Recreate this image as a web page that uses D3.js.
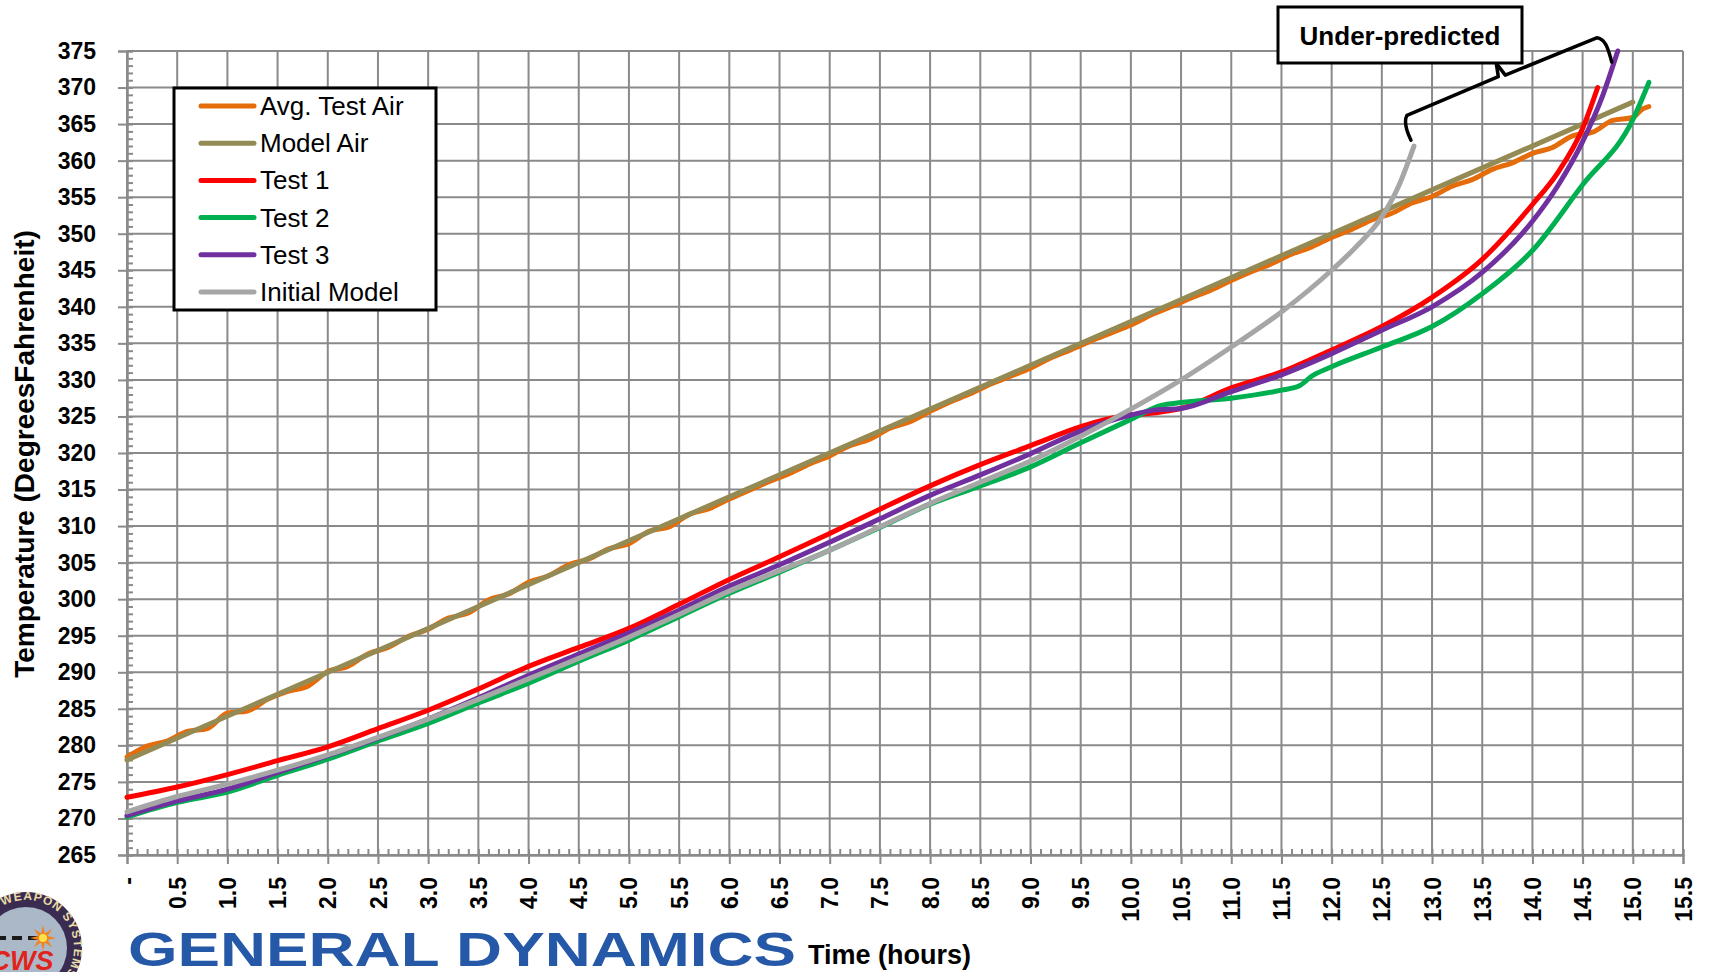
<!DOCTYPE html>
<html>
<head>
<meta charset="utf-8">
<script src="https://cdn.jsdelivr.net/npm/d3@7"></script>
<style>
  html, body { margin: 0; padding: 0; background: #ffffff; }
  svg { display: block; }
  text { font-family: "Liberation Sans", Arial, sans-serif; }
</style>
</head>
<body>
<svg id="chart" width="1709" height="972"></svg>
<script>
// ---- Data: temperature (°F) versus time (hours) ----
const airHours = [0,0.2,0.4,0.6,0.8,1.0,1.2,1.4,1.6,1.8,2.0,2.2,2.4,2.6,2.8,3.0,3.2,3.4,3.6,3.8,
  4.0,4.2,4.4,4.6,4.8,5.0,5.2,5.4,5.6,5.8,6.0,6.2,6.4,6.6,6.8,7.0,7.2,7.4,7.6,7.8,
  8.0,8.2,8.4,8.6,8.8,9.0,9.2,9.4,9.6,9.8,10.0,10.2,10.4,10.6,10.8,11.0,11.2,11.4,11.6,11.8,
  12.0,12.2,12.4,12.6,12.8,13.0,13.2,13.4,13.6,13.8,14.0,14.2,14.4,14.6,14.8,15.0,15.1,15.16];
const avgTestAir = [278.4,279.9,280.6,281.9,282.3,284.4,284.7,286.3,287.4,288.1,290.1,290.8,292.5,293.4,294.9,295.9,297.4,298.1,299.9,300.7,
  302.3,303.2,304.7,305.5,306.9,307.6,309.3,309.9,311.6,312.4,313.7,314.9,316.1,317.2,318.5,319.6,321.0,321.9,323.4,324.3,
  325.7,327.0,328.1,329.4,330.5,331.6,333.0,334.1,335.3,336.4,337.5,338.9,340.0,341.2,342.3,343.6,344.8,345.9,347.2,348.2,
  349.5,350.6,351.9,352.8,354.2,355.1,356.5,357.4,358.8,359.7,361.0,361.8,363.4,363.9,365.5,365.9,367.1,367.4];

const modelAirHours = [0, 3, 6, 9, 12, 15];
const modelAir = [278, 296, 314, 332, 350, 368];

const test1Hours = [0,0.5,1,1.5,2,2.5,3,3.5,4,4.5,5,5.5,6,6.5,7,7.5,8,8.5,9,9.5,9.75,10,10.25,10.5,11,11.5,12,12.5,13,13.5,14,14.25,14.5,14.65];
const test1 = [272.9,274.3,276.0,277.9,279.8,282.3,284.8,287.7,290.8,293.4,296.0,299.3,302.7,305.8,309.0,312.3,315.5,318.4,321.0,323.6,324.6,325.2,325.5,326.1,328.9,331.1,334.1,337.3,341.3,346.5,354.0,358.3,364.4,370.0];

const test2Hours = [0,0.5,1,1.5,2,2.5,3,3.5,4,4.5,5,5.5,6,6.5,7,7.5,8,8.5,9,9.5,10,10.3,10.5,11,11.5,11.68,11.8,12,12.5,13,13.5,14,14.5,15,15.16];
const test2 = [270.2,272.2,273.6,275.9,278.1,280.6,283.0,285.8,288.5,291.5,294.4,297.6,300.8,303.7,306.7,309.8,313.0,315.5,318.1,321.4,324.6,326.5,326.9,327.5,328.6,329.2,330.5,331.8,334.5,337.3,341.8,347.7,356.7,365.6,370.7];

const test3Hours = [0,0.5,1,1.5,2,2.5,3,3.5,4,4.5,5,5.5,6,6.5,7,7.5,8,8.5,9,9.5,10,10.25,10.5,11,11.5,12,12.5,13,13.5,14,14.25,14.5,14.7,14.85];
const test3 = [270.4,272.4,274.0,276.3,278.6,281.0,283.6,286.5,289.6,292.5,295.4,298.5,301.8,304.7,307.8,311.0,314.2,317.0,319.9,323.0,325.2,325.9,326.1,328.4,330.7,333.6,336.8,340.0,344.7,351.7,356.5,362.6,368.9,375.0];

const initialModelHours = [0,0.5,1,1.5,2,2.5,3,3.5,4,4.5,5,5.5,6,6.5,7,7.5,8,8.5,9,9.5,10,10.5,11,11.5,12,12.25,12.5,12.67,12.82];
const initialModel = [270.9,273.0,274.7,276.6,278.7,281.1,283.6,286.3,289.1,291.9,294.8,297.9,301.1,303.9,306.7,309.9,313.1,316.0,318.9,322.3,326.0,330.0,334.5,339.3,345.0,348.3,352.3,356.6,362.0];

const seriesNames = ["Avg. Test Air", "Model Air", "Test 1", "Test 2", "Test 3", "Initial Model"];
const seriesColors = ["#E46C0A", "#948A54", "#FF0000", "#00B050", "#7030A0", "#A6A6A6"];

const yTicks = d3.range(265, 376, 5);
const xTicks = d3.range(0, 15.51, 0.5);
const yMinorTicks = d3.range(265, 376, 1);
const xMinorTicks = d3.range(0, 155.1, 1).map(v => v / 10);

// ---- Layout ----
const svg = d3.select("#chart");
const plot = { left: 127, right: 1683, top: 51, bottom: 855 };
const x = d3.scaleLinear().domain([0, 15.5]).range([plot.left, plot.right]);
const y = d3.scaleLinear().domain([265, 375]).range([plot.bottom, plot.top]);
const gridColor = "#8a8a8a";

// ---- Emblem (bottom left) ----
const emb = svg.append("g").attr("transform", "translate(26,948)");
emb.append("circle").attr("r", 56).attr("fill", "#3a2c50");
emb.append("circle").attr("r", 41).attr("fill", "#aab8c8");
emb.append("path").attr("id", "ringPath")
  .attr("d", "M -41.6 -24 A 48 48 0 1 1 -41.6 24").attr("fill", "none");
emb.append("text").attr("font-size", 12).attr("font-weight", "bold")
  .attr("fill", "#eadca6").attr("letter-spacing", 1)
  .append("textPath").attr("href", "#ringPath").attr("startOffset", 26)
  .text("WEAPON SYSTEMS");
emb.append("line").attr("x1", -30).attr("x2", 14).attr("y1", -10).attr("y2", -10)
  .attr("stroke", "#1a1a1a").attr("stroke-width", 4).attr("stroke-dasharray", "10 6");
const star = d3.range(16).map(i => {
  const r = i % 2 === 0 ? 13 : 5;
  const a = i * Math.PI / 8;
  return [17 + r * Math.cos(a), -10 + r * Math.sin(a)];
});
emb.append("polygon").attr("points", star.map(p => p.join(",")).join(" ")).attr("fill", "#f2831e");
emb.append("circle").attr("cx", 17).attr("cy", -10).attr("r", 4).attr("fill", "#ffe14a");
emb.append("text").attr("x", -4).attr("y", 22).attr("text-anchor", "middle")
  .attr("font-size", 27).attr("font-weight", "bold").attr("font-style", "italic")
  .attr("fill", "#e0241c").text("CWS");

// ---- Grid ----
const grid = svg.append("g");
grid.selectAll("line.h").data(yTicks).join("line")
  .attr("x1", plot.left).attr("x2", plot.right)
  .attr("y1", d => y(d)).attr("y2", d => y(d))
  .attr("stroke", gridColor).attr("stroke-width", 2);
grid.selectAll("line.v").data(xTicks).join("line")
  .attr("y1", plot.top).attr("y2", plot.bottom)
  .attr("x1", d => x(d)).attr("x2", d => x(d))
  .attr("stroke", gridColor).attr("stroke-width", 2);

// ---- Axes ----
const yAxis = svg.append("g").attr("transform", `translate(${plot.left},0)`)
  .call(d3.axisLeft(y).tickValues(yTicks).tickSize(9).tickPadding(22).tickFormat(d3.format("d")));
const yMinor = svg.append("g").attr("transform", `translate(${plot.left},0)`)
  .call(d3.axisRight(y).tickValues(yMinorTicks).tickSize(6).tickFormat(""));
const xAxis = svg.append("g").attr("transform", `translate(0,${plot.bottom})`)
  .call(d3.axisBottom(x).tickValues(xTicks).tickSize(9)
    .tickFormat(d => d === 0 ? "-" : d3.format(".1f")(d)));
const xMinor = svg.append("g").attr("transform", `translate(0,${plot.bottom})`)
  .call(d3.axisTop(x).tickValues(xMinorTicks).tickSize(6).tickFormat(""));

[yAxis, yMinor, xAxis, xMinor].forEach(g => {
  g.select(".domain").attr("stroke", gridColor).attr("stroke-width", 2);
  g.selectAll(".tick line").attr("stroke", gridColor).attr("stroke-width", 2);
});
yAxis.selectAll("text")
  .attr("font-family", "'Liberation Sans', Arial, sans-serif")
  .attr("font-size", 23).attr("font-weight", "bold").attr("fill", "#000");
xAxis.selectAll("text")
  .attr("font-family", "'Liberation Sans', Arial, sans-serif")
  .attr("font-size", 23).attr("font-weight", "bold").attr("fill", "#000")
  .attr("transform", "rotate(-90)")
  .attr("text-anchor", "end")
  .attr("x", -22).attr("y", 0).attr("dy", "0.35em");

// ---- Axis titles ----
svg.append("text")
  .attr("transform", "translate(24,454) rotate(-90)")
  .attr("text-anchor", "middle").attr("dominant-baseline", "central")
  .attr("font-size", 28).attr("font-weight", "bold").attr("fill", "#000")
  .text("Temperature (DegreesFahrenheit)");
svg.append("text")
  .attr("x", 808).attr("y", 964)
  .attr("font-size", 27).attr("font-weight", "bold").attr("fill", "#000")
  .text("Time (hours)");

// ---- Company wordmark ----
svg.append("text")
  .attr("x", 128).attr("y", 966)
  .attr("font-family", "'DejaVu Sans', sans-serif")
  .attr("font-size", 48).attr("font-weight", "bold").attr("fill", "#2559a7")
  .attr("textLength", 668).attr("lengthAdjust", "spacingAndGlyphs")
  .text("GENERAL DYNAMICS");

// ---- Series lines ----
const zip = (hs, vs) => hs.map((h, i) => [h, vs[i]]);
const series = [
  zip(airHours, avgTestAir),
  zip(modelAirHours, modelAir),
  zip(test1Hours, test1),
  zip(test2Hours, test2),
  zip(test3Hours, test3),
  zip(initialModelHours, initialModel)
];
const line = d3.line().x(d => x(d[0])).y(d => y(d[1])).curve(d3.curveMonotoneX);
svg.append("g").selectAll("path").data(series).join("path")
  .attr("d", line)
  .attr("fill", "none")
  .attr("stroke", (d, i) => seriesColors[i])
  .attr("stroke-width", 5)
  .attr("stroke-linecap", "round")
  .attr("stroke-linejoin", "round");

// ---- Legend ----
const legend = svg.append("g");
legend.append("rect").attr("x", 174).attr("y", 88).attr("width", 262).attr("height", 222)
  .attr("fill", "#fff").attr("stroke", "#000").attr("stroke-width", 3);
const item = legend.selectAll("g.item").data(seriesNames).join("g")
  .attr("transform", (d, i) => `translate(0,${106 + i * 37.2})`);
item.append("line").attr("x1", 201).attr("x2", 254)
  .attr("stroke", (d, i) => seriesColors[i]).attr("stroke-width", 5).attr("stroke-linecap", "round");
item.append("text").attr("x", 260).attr("y", 0).attr("dominant-baseline", "central")
  .attr("font-size", 26).attr("fill", "#000").text(d => d);

// ---- Annotation callout ----
const note = svg.append("g");
note.append("path")
  .attr("d", `M ${x(12.79)} ${y(362.8)}
              C ${x(12.74)} ${y(364.2)} ${x(12.72)} ${y(365.4)} ${x(12.75)} ${y(366.2)}
              L ${x(13.66)} ${y(371.5)}
              L ${x(13.64)} ${y(373.3)}
              L ${x(13.73)} ${y(371.7)}
              L ${x(14.64)} ${y(376.8)}
              C ${x(14.72)} ${y(376.7)} ${x(14.75)} ${y(375.6)} ${x(14.79)} ${y(373.5)}`)
  .attr("fill", "none").attr("stroke", "#000").attr("stroke-width", 3.5)
  .attr("stroke-linejoin", "round").attr("stroke-linecap", "round");
note.append("rect").attr("x", 1278).attr("y", 7).attr("width", 244).attr("height", 56)
  .attr("fill", "#fff").attr("stroke", "#000").attr("stroke-width", 3);
note.append("text").attr("x", 1400).attr("y", 36)
  .attr("text-anchor", "middle").attr("dominant-baseline", "central")
  .attr("font-size", 26).attr("font-weight", "bold").attr("fill", "#000")
  .text("Under-predicted");
</script>
</body>
</html>
